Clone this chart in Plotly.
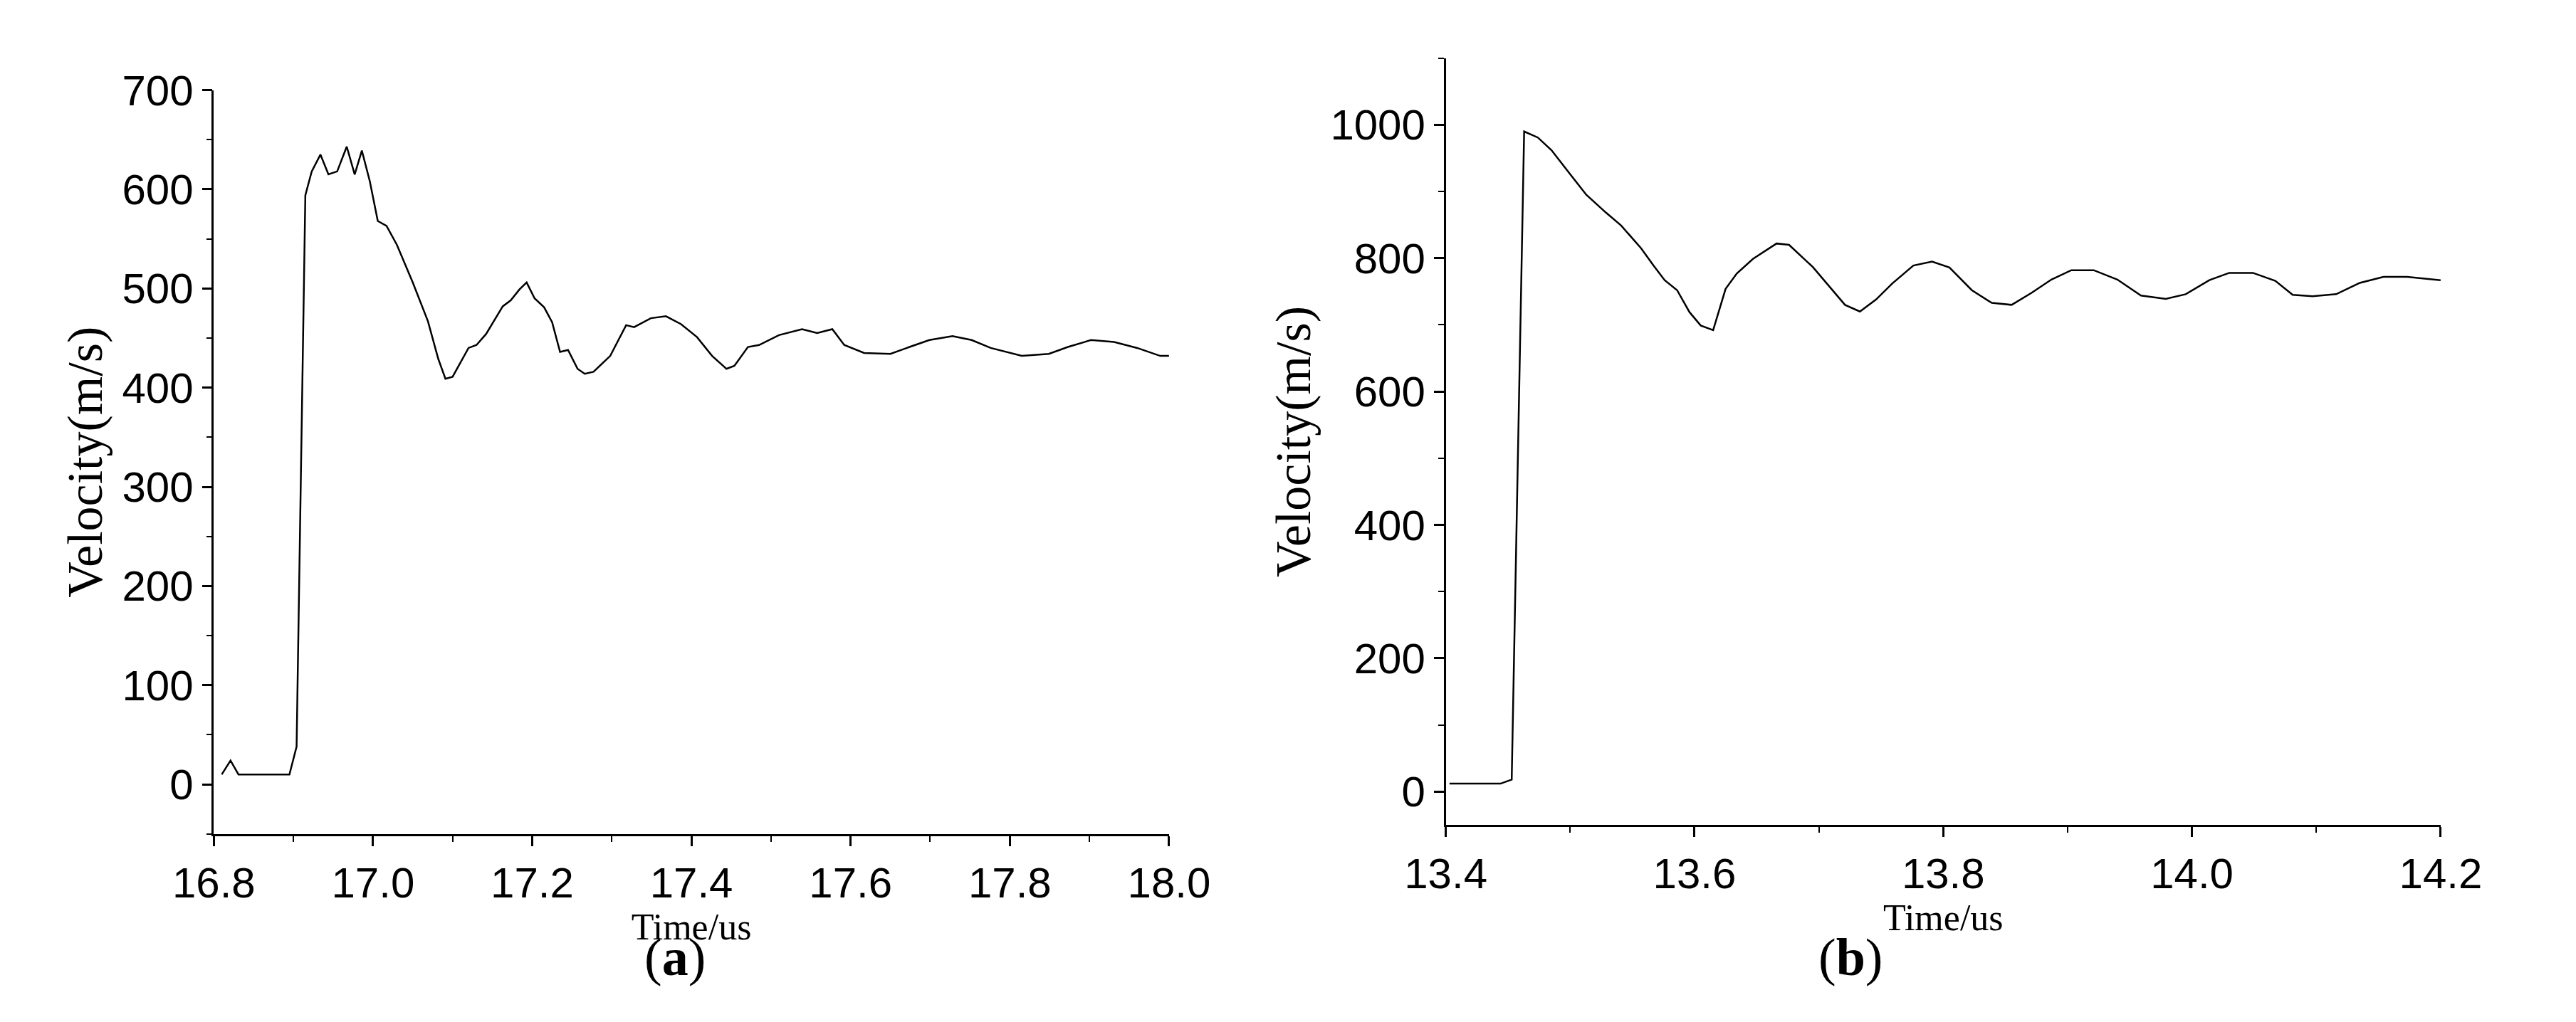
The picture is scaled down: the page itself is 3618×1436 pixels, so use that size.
import plotly.graph_objects as go
from plotly.subplots import make_subplots

# Panel (a): velocity vs time
time_a = [16.81, 16.821, 16.831, 16.895, 16.904, 16.915, 16.923, 16.934, 16.944, 16.955,
          16.967, 16.977, 16.986, 16.996, 17.006, 17.017, 17.03, 17.05, 17.069, 17.082,
          17.091, 17.1, 17.12, 17.13, 17.142, 17.163, 17.173, 17.184, 17.193, 17.203,
          17.215, 17.225, 17.235, 17.245, 17.257, 17.266, 17.277, 17.298, 17.318, 17.328,
          17.349, 17.368, 17.387, 17.407, 17.426, 17.444, 17.454, 17.471, 17.485, 17.51,
          17.539, 17.558, 17.577, 17.592, 17.617, 17.65, 17.674, 17.699, 17.728, 17.752,
          17.776, 17.815, 17.849, 17.873, 17.902, 17.931, 17.96, 17.989, 18.0]
vel_a = [10, 24, 10, 10, 38, 594, 618, 635, 615, 618,
         643, 615, 639, 608, 568, 563, 544, 506, 467, 429,
         409, 411, 440, 443, 454, 482, 488, 499, 506, 490,
         481, 466, 436, 438, 419, 414, 416, 432, 463, 461,
         470, 472, 464, 451, 432, 419, 422, 441, 443, 453,
         459, 455, 459, 443, 435, 434, 441, 448, 452, 448,
         440, 432, 434, 441, 448, 446, 440, 432, 432]

# Panel (b): velocity vs time
time_b = [13.403, 13.444, 13.453, 13.463, 13.474, 13.485, 13.5, 13.513, 13.529, 13.541,
          13.557, 13.567, 13.576, 13.586, 13.596, 13.605, 13.615, 13.625, 13.634, 13.647,
          13.666, 13.676, 13.695, 13.711, 13.721, 13.733, 13.746, 13.759, 13.776, 13.791,
          13.805, 13.823, 13.839, 13.855, 13.871, 13.887, 13.903, 13.921, 13.94, 13.959,
          13.979, 13.995, 14.014, 14.03, 14.049, 14.067, 14.081, 14.097, 14.116, 14.135,
          14.154, 14.173, 14.2]
vel_b = [12, 12, 18, 990, 981, 962, 926, 895, 868, 849,
         815, 789, 767, 752, 719, 699, 692, 754, 777, 799,
         822, 820, 787, 752, 730, 720, 738, 762, 789, 795,
         786, 752, 733, 730, 748, 768, 782, 782, 768, 744,
         739, 746, 767, 778, 778, 766, 745, 743, 746, 763,
         772, 772, 767]

fig = make_subplots(rows=1, cols=2)
fig.add_trace(go.Scatter(x=time_a, y=vel_a, mode='lines',
                         line=dict(color='black', width=2.5)), row=1, col=1)
fig.add_trace(go.Scatter(x=time_b, y=vel_b, mode='lines',
                         line=dict(color='black', width=2.5)), row=1, col=2)

tick_font = dict(family='Liberation Sans Narrow, Liberation Sans, Arial', size=60, color='black')
title_font = dict(family='Liberation Serif, Times New Roman', size=70, color='black')
xtitle_font = dict(family='Liberation Serif, Times New Roman', size=52, color='black')
axis_common = dict(showgrid=False, zeroline=False, showline=True, linecolor='black',
                   linewidth=2.5, ticks='outside', ticklen=14, tickwidth=2.5,
                   tickcolor='black', tickfont=tick_font,
                   minor=dict(ticks='outside', ticklen=8, tickwidth=2, tickcolor='black'))

fig.update_xaxes(axis_common)
fig.update_yaxes(axis_common)

fig.update_xaxes(range=[16.8, 18.0], dtick=0.2, tickformat='.1f', domain=[0.0669, 0.450],
                 minor=dict(dtick=0.1), title=dict(text='Time/us', font=xtitle_font, standoff=0),
                 row=1, col=1)
fig.update_yaxes(range=[-50, 700], dtick=100, domain=[0.194, 0.939], minor=dict(dtick=50),
                 title=dict(text='Velocity(m/s)', font=title_font, standoff=5), row=1, col=1)
fig.update_xaxes(range=[13.4, 14.2], dtick=0.2, tickformat='.1f', domain=[0.561, 0.960],
                 minor=dict(dtick=0.1), title=dict(text='Time/us', font=xtitle_font, standoff=0),
                 row=1, col=2)
fig.update_yaxes(range=[-50, 1100], dtick=200, domain=[0.203, 0.971], minor=dict(dtick=100),
                 title=dict(text='Velocity(m/s)', font=title_font, standoff=5), row=1, col=2)

for label, xpos in [('(<b>a</b>)', 865 / 3618), ('(<b>b</b>)', 2665 / 3618)]:
    fig.add_annotation(text=label, x=xpos, y=0.04, xref='paper', yref='paper',
                       showarrow=False, font=dict(family='Liberation Serif', size=74, color='black'))

fig.update_layout(width=3618, height=1436, showlegend=False,
                  paper_bgcolor='white', plot_bgcolor='white',
                  margin=dict(l=0, r=0, t=0, b=0))

fig.write_html("out.html")
